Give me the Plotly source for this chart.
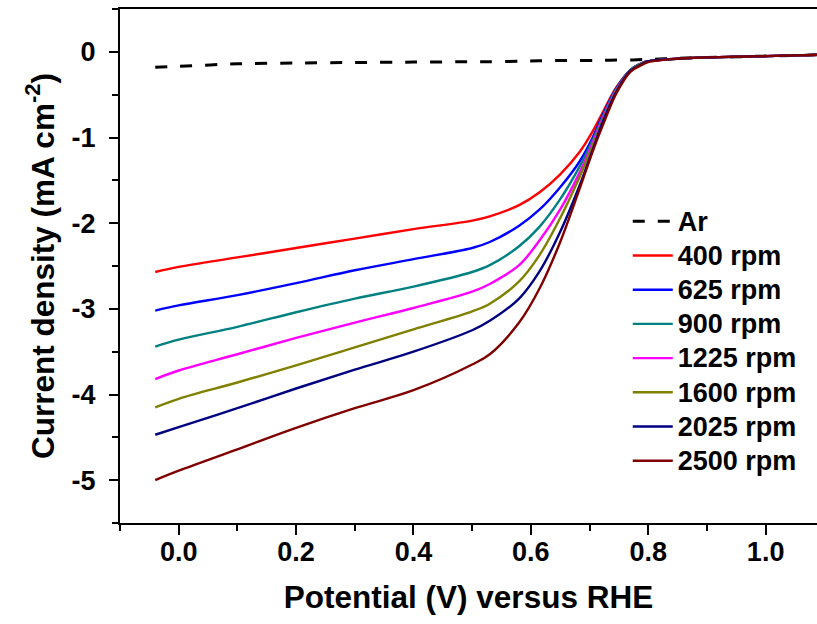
import plotly.graph_objects as go

# Potential (V vs RHE)
potential = [-0.04, 0.0, 0.1, 0.2, 0.3, 0.4, 0.5, 0.53, 0.58, 0.615, 0.65, 0.683, 0.706, 0.723, 0.746, 0.77, 0.79, 0.8, 0.85, 0.9, 1.0, 1.09]

ar      = [-0.18, -0.17, -0.14, -0.13, -0.125, -0.12, -0.115, -0.115, -0.11, -0.105, -0.10, -0.10, -0.10, -0.10, -0.095, -0.095, -0.09, -0.09, -0.075, -0.065, -0.05, -0.035]
rpm400  = [-2.57, -2.51, -2.40, -2.29, -2.18, -2.07, -1.97, -1.92, -1.79, -1.64, -1.43, -1.17, -0.92, -0.70, -0.41, -0.21, -0.13, -0.11, -0.08, -0.065, -0.05, -0.035]
rpm625  = [-3.02, -2.96, -2.84, -2.70, -2.55, -2.42, -2.29, -2.22, -2.03, -1.84, -1.58, -1.28, -0.99, -0.73, -0.42, -0.21, -0.13, -0.11, -0.08, -0.065, -0.05, -0.035]
rpm900  = [-3.44, -3.36, -3.21, -3.04, -2.88, -2.74, -2.57, -2.49, -2.27, -2.04, -1.72, -1.34, -1.02, -0.75, -0.43, -0.21, -0.13, -0.11, -0.08, -0.065, -0.05, -0.035]
rpm1225 = [-3.82, -3.72, -3.53, -3.34, -3.16, -2.99, -2.80, -2.71, -2.49, -2.20, -1.84, -1.41, -1.05, -0.77, -0.44, -0.22, -0.13, -0.11, -0.08, -0.065, -0.05, -0.035]
rpm1600 = [-4.15, -4.05, -3.86, -3.66, -3.45, -3.24, -3.03, -2.94, -2.68, -2.37, -1.94, -1.46, -1.08, -0.79, -0.45, -0.22, -0.13, -0.11, -0.08, -0.065, -0.05, -0.035]
rpm2025 = [-4.47, -4.38, -4.16, -3.93, -3.71, -3.50, -3.25, -3.14, -2.88, -2.56, -2.10, -1.56, -1.13, -0.81, -0.46, -0.22, -0.14, -0.11, -0.08, -0.065, -0.05, -0.035]
rpm2500 = [-5.00, -4.89, -4.64, -4.39, -4.16, -3.95, -3.65, -3.53, -3.16, -2.76, -2.22, -1.60, -1.15, -0.85, -0.48, -0.23, -0.15, -0.12, -0.08, -0.065, -0.05, -0.035]

series_names = ["400 rpm", "625 rpm", "900 rpm", "1225 rpm", "1600 rpm", "2025 rpm", "2500 rpm"]
series_values = [rpm400, rpm625, rpm900, rpm1225, rpm1600, rpm2025, rpm2500]
series_colors = ["#ff0000", "#0000ff", "#008080", "#ff00ff", "#808000", "#000080", "#800000"]

x_tick_vals = [0.0, 0.2, 0.4, 0.6, 0.8, 1.0]
x_tick_text = ["0.0", "0.2", "0.4", "0.6", "0.8", "1.0"]
y_tick_vals = [0, -1, -2, -3, -4, -5]
y_tick_text = ["0", "-1", "-2", "-3", "-4", "-5"]

FONT = "Arial, Liberation Sans, sans-serif"


def leg(name):
    return "<span style='font-size:27px'>" + name + "</span>"


fig = go.Figure()
fig.add_trace(go.Scatter(x=potential, y=ar, mode="lines", name=leg("Ar"),
                         line=dict(color="black", width=3, dash="12px,13px", shape="spline", smoothing=0.8)))
for n, v, c in zip(series_names, series_values, series_colors):
    fig.add_trace(go.Scatter(x=potential, y=v, mode="lines", name=leg(n),
                             line=dict(color=c, width=2.4, shape="spline", smoothing=1.0)))

fig.update_layout(
    width=817, height=624,
    margin=dict(l=120, r=0, t=9, b=101, autoexpand=False),
    plot_bgcolor="white", paper_bgcolor="white",
    font=dict(family=FONT, size=20, color="black", weight="bold"),
    showlegend=True,
    legend=dict(x=0.7285, y=0.63, xanchor="left", yanchor="top",
                font=dict(family=FONT, size=24, color="black", weight="bold"),
                bgcolor="rgba(0,0,0,0)", tracegroupgap=0, itemwidth=40),
)
fig.update_xaxes(
    range=[-0.1, 1.0875], showline=True, linecolor="black", linewidth=2, mirror=True,
    ticks="outside", ticklen=10, tickwidth=2, tickcolor="black",
    tickmode="array", tickvals=x_tick_vals, ticktext=x_tick_text, showgrid=False, zeroline=False,
    minor=dict(ticks="outside", dtick=0.1, tick0=0, ticklen=6, tickwidth=2, tickcolor="black", showgrid=False),
    tickfont=dict(size=27, family=FONT, weight="bold"), ticklabelstandoff=-6,
    automargin=False,
    title=dict(text="Potential (V) versus RHE", font=dict(size=31.5, family=FONT, weight="bold"), standoff=20),
)
fig.update_yaxes(
    range=[-5.5, 0.5], showline=True, linecolor="black", linewidth=2, mirror=False,
    ticks="outside", ticklen=9, tickwidth=2, tickcolor="black",
    tickmode="array", tickvals=y_tick_vals, ticktext=y_tick_text, showgrid=False, zeroline=False,
    minor=dict(ticks="outside", dtick=0.5, tick0=0, ticklen=6, tickwidth=2, tickcolor="black", showgrid=False),
    tickfont=dict(size=27, family=FONT, weight="bold"), ticklabelstandoff=8,
    automargin=False,
    title=dict(text="Current density (mA cm<sup>-2</sup>)", font=dict(size=31.5, family=FONT, weight="bold"), standoff=8),
)

fig.write_html("out.html", config={"displayModeBar": False},
               post_script="document.body.style.margin='0';document.body.style.padding='0';")
